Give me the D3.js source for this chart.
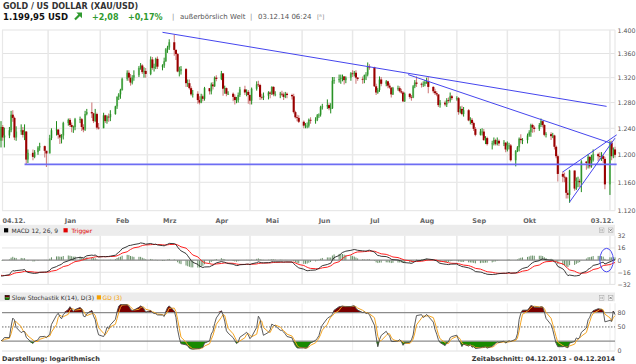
<!DOCTYPE html>
<html><head><meta charset="utf-8">
<script src="https://cdn.jsdelivr.net/npm/d3@7/dist/d3.min.js"></script>
<style>
html,body{margin:0;padding:0;background:#fff;overflow:hidden}
svg{display:block;font-family:"DejaVu Sans",Verdana,sans-serif}
</style></head><body>
<svg id="c" width="636" height="364"></svg>
<script>
// ---------------- DATA ----------------
const startDate = "2013-12-04", endDate = "2014-12-04";
const holidays = ["2013-12-25", "2014-01-01"];
const firstOpen = 1221;

const close = [].concat(
  [1242,1226,1229,1237,1261,1256,1226,1235,1237,1230,1235,1193,1203,1197,1204,1211,1213,1206,1202],
  [1225,1237,1238,1230,1226,1229,1248,1253,1245,1242,1242,1254,1254,1242,1238,1262,1265,1263,1251,1262,1241,1240],
  [1260,1251,1258,1257,1262,1274,1289,1293,1300,1318,1328,1320,1312,1320,1324,1336,1340,1329,1331,1326],
  [1350,1336,1338,1351,1338,1340,1347,1367,1370,1379,1366,1359,1330,1331,1334,1311,1311,1303,1293,1294,1284],
  [1280,1290,1286,1303,1298,1309,1306,1320,1318,1327,1302,1303,1294,1294,1289,1284,1284,1292,1301,1296,1297,1292],
  [1283,1302,1309,1308,1289,1288,1291,1296,1294,1305,1293,1293,1294,1293,1289,1294,1292,1290,1265,1257,1256,1250],
  [1244,1244,1244,1253,1252,1253,1260,1261,1273,1274,1276,1271,1271,1315,1316,1318,1320,1322,1316,1320,1327],
  [1326,1328,1320,1318,1317,1324,1325,1338,1337,1306,1296,1300,1317,1310,1314,1307,1304,1293,1303,1303,1298,1296,1282],
  [1294,1289,1288,1306,1312,1310,1309,1310,1313,1314,1305,1298,1295,1293,1276,1280,1277,1284,1283,1290,1287],
  [1287,1265,1270,1262,1268,1252,1253,1248,1239,1230,1235,1235,1222,1225,1216,1217,1222,1216,1221,1217,1218,1208],
  [1214,1214,1192,1206,1211,1224,1222,1222,1229,1234,1245,1241,1239,1245,1251,1245,1230,1231,1228,1229,1212,1198,1172],
  [1168,1167,1145,1142,1177,1151,1162,1162,1160,1190,1188,1197,1183,1192,1201,1198,1197,1198,1194,1157],
  [1218,1198,1208,1200]
);
const high = [].concat(
  [1251,1245,1241,1242,1267,1268,1258,1243,1246,1242,1246,1236,1208,1208,1207,1213,1218,1214,1206],
  [1230,1240,1251,1239,1232,1231,1250,1255,1256,1249,1244,1256,1258,1256,1246,1267,1270,1280,1264,1270,1264,1248],
  [1264,1261,1260,1263,1268,1275,1290,1295,1302,1320,1332,1332,1326,1324,1332,1339,1344,1342,1337,1336],
  [1355,1354,1343,1353,1355,1342,1353,1369,1373,1384,1392,1367,1361,1338,1339,1336,1317,1317,1306,1300,1298],
  [1290,1294,1293,1305,1303,1312,1313,1322,1324,1331,1327,1307,1304,1298,1296,1293,1289,1296,1305,1307,1301,1300],
  [1293,1304,1314,1315,1310,1294,1296,1298,1298,1306,1306,1298,1297,1299,1296,1297,1296,1294,1294,1267,1261,1260],
  [1252,1248,1249,1255,1257,1257,1262,1263,1275,1278,1285,1279,1279,1321,1321,1325,1325,1325,1322,1322,1329],
  [1332,1331,1332,1321,1322,1325,1329,1345,1342,1338,1310,1303,1322,1321,1316,1315,1311,1304,1305,1307,1306,1302,1298],
  [1296,1295,1292,1308,1316,1322,1312,1314,1316,1320,1321,1306,1302,1298,1293,1284,1283,1287,1288,1296,1292],
  [1290,1289,1274,1275,1273,1270,1257,1256,1250,1242,1239,1240,1239,1228,1227,1221,1226,1224,1226,1223,1222,1219],
  [1220,1218,1216,1207,1213,1226,1231,1225,1232,1237,1247,1247,1244,1248,1255,1251,1246,1234,1234,1233,1230,1214,1200],
  [1176,1174,1168,1149,1178,1177,1167,1168,1165,1192,1191,1201,1198,1200,1208,1203,1204,1204,1200,1197],
  [1221,1221,1211,1212]
);
const low = [].concat(
  [1211,1221,1211,1225,1234,1250,1222,1221,1230,1226,1222,1185,1188,1192,1195,1200,1206,1196,1182],
  [1202,1222,1229,1224,1216,1217,1223,1244,1242,1234,1233,1237,1248,1236,1234,1236,1260,1256,1248,1250,1238,1238],
  [1240,1248,1247,1250,1251,1261,1270,1284,1286,1299,1315,1315,1307,1309,1315,1321,1333,1326,1320,1320],
  [1324,1333,1330,1334,1334,1332,1336,1346,1361,1366,1356,1349,1329,1322,1325,1305,1305,1301,1291,1288,1278],
  [1277,1279,1282,1283,1293,1293,1301,1305,1314,1316,1291,1294,1290,1292,1282,1277,1279,1280,1289,1292,1290,1278],
  [1277,1277,1299,1305,1284,1285,1284,1285,1287,1292,1290,1290,1287,1290,1284,1287,1287,1285,1263,1255,1251,1248],
  [1240,1240,1240,1241,1247,1247,1251,1256,1258,1269,1270,1268,1263,1270,1310,1312,1310,1314,1309,1311,1315],
  [1321,1322,1310,1315,1310,1311,1316,1322,1333,1305,1292,1294,1297,1306,1306,1303,1302,1288,1292,1299,1296,1294,1281],
  [1281,1286,1283,1287,1303,1305,1304,1305,1306,1310,1295,1295,1292,1290,1273,1272,1274,1273,1279,1280,1284],
  [1283,1261,1263,1260,1258,1251,1246,1245,1236,1228,1229,1229,1221,1216,1214,1208,1214,1214,1214,1213,1213,1204],
  [1205,1208,1190,1183,1204,1205,1217,1216,1217,1227,1227,1233,1234,1236,1242,1241,1228,1226,1222,1225,1208,1195,1161],
  [1160,1160,1137,1137,1131,1148,1149,1153,1153,1146,1178,1180,1180,1181,1190,1191,1192,1191,1188,1150],
  [1142,1192,1195,1196]
);
// warm-up period before the visible range (Sep 2013 – 03.12.2013), needed for MACD / stochastic
const preClose = [].concat(
  [1412,1412,1390,1366,1387,1386,1363,1367,1331,1331,1314,1308,1367,1366,1333,1325,1322,1337,1324,1337,1327],
  [1286,1317,1316,1310,1324,1324,1307,1286,1273,1275,1273,1282,1322,1316,1315,1337,1333,1349,1352,1353,1345,1349,1323],
  [1315,1316,1308,1317,1308,1287,1282,1271,1283,1287,1288,1273,1275,1243,1243,1244,1241,1243,1238,1240,1250],
  [1222,1221]
);
const preHigh = [1318,1320,1323,1310,1289,1285,1287,1295,1292,1290,1279,1280,1248,1247,1248,1246,1256,1245,1254,1252,1243];
const preLow  = [1300,1305,1301,1281,1276,1266,1262,1280,1280,1271,1268,1240,1236,1233,1226,1235,1233,1235,1237,1212,1211];

const priceTicks = [1120,1160,1200,1240,1280,1320,1360,1400];
const macdTicks = [32,16,0,-16,-32];
const stochTicks = [80,50,0];
const xTickLabels = ["04.12.","Jan","Feb","Mrz","Apr","Mai","Jun","Jul","Aug","Sep","Okt","03.12."];
const xTickDates  = ["2013-12-04","2014-01-14","2014-02-14","2014-03-14","2014-04-14","2014-05-14","2014-06-14","2014-07-14","2014-08-14","2014-09-14","2014-10-14","2014-12-03"];

// drawn trend lines (date, price)
const trendLines = [
  [["2014-03-10",1396],["2014-11-29",1274]],
  [["2014-08-03",1325],["2014-12-02",1217]],
  [["2014-11-03",1175],["2014-12-05",1230]],
  [["2014-11-07",1132],["2014-12-04",1225]]
];
const supportLine = [["2013-12-18",1186],["2014-12-05",1186]];
const macdMarker = {date:"2014-11-29", value:0, days:4, range:15.5};

// ---------------- SETUP ----------------
const P = d3.timeParse("%Y-%m-%d");
const fmt = d3.timeFormat("%Y-%m-%d");
const hol = new Set(holidays);
const days = d3.timeDay.range(P(startDate), d3.timeDay.offset(P(endDate), 1))
  .filter(d => d.getDay() !== 0 && d.getDay() !== 6 && !hol.has(fmt(d)));
const candles = days.map((d, i) => ({date: d, open: i ? close[i-1] : firstOpen, high: high[i], low: low[i], close: close[i]}));

const svg = d3.select("#c");
const xL = 1, xR = 615;
const x = d3.scaleTime().domain([P(startDate), P(endDate)]).range([xL, xR]);
const y = d3.scaleLog().domain([1120, 1400]).range([210.7, 30]);
const yM = d3.scaleLinear().domain([-32, 32]).range([284.4, 235.8]);
const yS = d3.scaleLinear().domain([0, 100]).range([350.7, 303.2]);
const monthStarts = d3.timeMonth.range(P("2014-01-01"), P("2014-12-02"));

// defs / clips
const defs = svg.append("defs");
defs.append("clipPath").attr("id","cm").append("rect").attr("x",1).attr("y",235.8).attr("width",615).attr("height",48.6);
defs.append("clipPath").attr("id","cs").append("rect").attr("x",1).attr("y",301).attr("width",615).attr("height",50);

// ---------------- HEADER ----------------
const green = "#2f9a2f";
svg.append("text").attr("x",3).attr("y",9).attr("font-size",8).attr("font-weight","bold").attr("fill","#333").text("GOLD / US DOLLAR (XAU/USD)");
svg.append("text").attr("x",3).attr("y",19.5).attr("font-size",8.5).attr("font-weight","bold").attr("fill","#111").text("1.199,95 USD");
svg.append("path").attr("d","M75,19.5 L80.2,14.3").attr("stroke",green).attr("stroke-width",2.2);
svg.append("path").attr("d","M76.3,12.6 L82,12.6 L82,18.3 Z").attr("fill",green);
svg.append("text").attr("x",92).attr("y",19.5).attr("font-size",8).attr("font-weight","bold").attr("fill",green).text("+2,08");
svg.append("text").attr("x",128).attr("y",19.5).attr("font-size",8).attr("font-weight","bold").attr("fill",green).text("+0,17%");
svg.append("text").attr("x",172).attr("y",19).attr("font-size",7).attr("fill","#888").text("|");
svg.append("text").attr("x",180).attr("y",19).attr("font-size",7).attr("fill","#555").text("außerbörslich Welt");
svg.append("text").attr("x",250).attr("y",19).attr("font-size",7).attr("fill","#888").text("|");
svg.append("text").attr("x",258).attr("y",19).attr("font-size",7).attr("fill","#555").text("03.12.14 06:24");
svg.append("text").attr("x",317).attr("y",18.5).attr("font-size",6).attr("fill","#888").text("[ᴿ]");

// ---------------- MAIN GRID ----------------
const gGrid = svg.append("g");
gGrid.selectAll("line.h").data(priceTicks).join("line")
  .attr("x1",2).attr("x2",xR).attr("y1",d=>y(d)).attr("y2",d=>y(d))
  .attr("stroke","#e3e3e3").attr("stroke-width",1);
gGrid.selectAll("line.v").data(monthStarts).join("line")
  .attr("x1",d=>x(d)).attr("x2",d=>x(d)).attr("y1",y(1400)).attr("y2",y(1120))
  .attr("stroke","#e8e8e8").attr("stroke-width",1.5);
[2.5, xR].forEach(v => gGrid.append("line").attr("x1",v).attr("x2",v).attr("y1",y(1400)).attr("y2",y(1120)).attr("stroke","#e8e8e8").attr("stroke-width",1.2));

// candles
const gC = svg.append("g");
const bw = 2.1;
candles.forEach(c => {
  const up = c.close >= c.open, cx = x(c.date);
  if (up) {
    gC.append("rect").attr("x",cx-bw/2).attr("width",bw)
      .attr("y",y(c.close)).attr("height",Math.max(0.8,y(c.open)-y(c.close))).attr("fill","#92cf92");
    gC.append("line").attr("x1",cx).attr("x2",cx).attr("y1",y(c.high)).attr("y2",y(c.low))
      .attr("stroke","#1f8a1b").attr("stroke-width",1);
  } else {
    gC.append("line").attr("x1",cx).attr("x2",cx).attr("y1",y(c.high)).attr("y2",y(c.low))
      .attr("stroke","#d07f7f").attr("stroke-width",1.1);
    gC.append("rect").attr("x",cx-bw/2).attr("width",bw)
      .attr("y",y(c.open)).attr("height",Math.max(0.8,y(c.close)-y(c.open))).attr("fill","#990000");
  }
});

// trend lines
const tl = d3.line().x(d=>x(P(d[0]))).y(d=>y(d[1]));
svg.append("path").attr("d",tl(supportLine)).attr("fill","none").attr("stroke","#6d6df3").attr("stroke-width",1.6);
trendLines.forEach(l => svg.append("path").attr("d",tl(l)).attr("fill","none").attr("stroke","#4646ee").attr("stroke-width",1));

// right price axis
const ax = svg.append("g").attr("transform",`translate(${xR+0.5},0)`)
  .call(d3.axisRight(y).tickValues(priceTicks).tickSize(0).tickPadding(2).tickFormat(d=>d3.format(",")(d).replace(",",".")));
ax.select(".domain").remove();
ax.selectAll("text").attr("font-size",6.3).attr("fill","#555").attr("font-family","DejaVu Sans");

// bottom date axis
const bx = svg.append("g").attr("transform","translate(0,211)")
  .call(d3.axisBottom(x).tickValues(xTickDates.map(P)).tickSize(0).tickPadding(7).tickFormat((d,i)=>xTickLabels[i]));
bx.select(".domain").remove();
bx.selectAll("text").attr("font-size",6.5).attr("font-weight","bold").attr("fill","#666").attr("font-family","DejaVu Sans");
bx.selectAll("text").filter((d,i)=>i===0).attr("text-anchor","start").attr("dx",1);
bx.selectAll("text").filter((d,i)=>i===xTickLabels.length-1).attr("text-anchor","end").attr("dx",0);

// ---------------- INDICATORS ----------------
function ema(arr, n) { const k = 2/(n+1), o = []; arr.forEach((v,i)=>o.push(i ? v*k + o[i-1]*(1-k) : v)); return o; }
const allC = preClose.concat(close);
const e12 = ema(allC,12), e26 = ema(allC,26);
const macdAll = allC.map((v,i)=>e12[i]-e26[i]);
const sigAll = ema(macdAll,9);
const off = preClose.length;
const macdData = candles.map((c,i)=>({date:c.date, m:macdAll[off+i], s:sigAll[off+i]}));

const sC = preClose.slice(-preHigh.length).concat(close);
const sH = preHigh.concat(high), sL = preLow.concat(low);
const rawK = sC.map((c,i)=>{ if(i<13) return null; const hh=d3.max(sH.slice(i-13,i+1)), ll=d3.min(sL.slice(i-13,i+1)); return hh===ll?50:100*(c-ll)/(hh-ll); });
const slowK = rawK.map((v,i)=> i<15 ? null : (rawK[i]+rawK[i-1]+rawK[i-2])/3);
const dL = slowK.map((v,i)=> i<17 ? null : (slowK[i]+slowK[i-1]+slowK[i-2])/3);
const so = preHigh.length;
const stData = candles.map((c,i)=>({date:c.date, k:slowK[so+i], d:dL[so+i]}));

// ---------------- MACD PANEL ----------------
svg.append("rect").attr("x",0).attr("y",224.8).attr("width",615).attr("height",11).attr("fill","#ececec");
svg.append("rect").attr("x",4).attr("y",228.2).attr("width",4.2).attr("height",4.2).attr("fill","#000");
svg.append("text").attr("x",11.5).attr("y",233.3).attr("font-size",6).attr("fill","#333").text("MACD 12, 26, 9");
svg.append("rect").attr("x",63.5).attr("y",228.2).attr("width",4.2).attr("height",4.2).attr("fill","#e00000");
svg.append("text").attr("x",71.5).attr("y",233.3).attr("font-size",6).attr("fill","#e00000").text("Trigger");
function icons(yy){
  [599.3,608.3].forEach((ix,j)=>{
    svg.append("rect").attr("x",ix).attr("y",yy).attr("width",4.6).attr("height",4.6).attr("fill","#fff").attr("stroke","#aaa").attr("stroke-width",0.6);
    if(j===0){ svg.append("path").attr("d",`M${ix+1.6},${yy+1} v2.6 M${ix+3},${yy+1} v2.6`).attr("stroke","#777").attr("stroke-width",0.6); }
    else { svg.append("path").attr("d",`M${ix+1.1},${yy+1.1} l2.4,2.4 M${ix+3.5},${yy+1.1} l-2.4,2.4`).attr("stroke","#555").attr("stroke-width",0.7); }
  });
}
icons(228);

const gM = svg.append("g");
gM.selectAll("line.v").data(monthStarts).join("line")
  .attr("x1",d=>x(d)).attr("x2",d=>x(d)).attr("y1",yM(32)).attr("y2",yM(-32)).attr("stroke","#e8e8e8").attr("stroke-width",1.5);
gM.append("line").attr("x1",xR).attr("x2",xR).attr("y1",yM(32)).attr("y2",yM(-32)).attr("stroke","#e8e8e8").attr("stroke-width",1.2);
[16,-16,-32].forEach(v=>gM.append("line").attr("x1",2).attr("x2",xR).attr("y1",yM(v)).attr("y2",yM(v)).attr("stroke","#e2e2e2"));
const gMc = svg.append("g").attr("clip-path","url(#cm)");
gMc.selectAll("rect.hist").data(macdData).join("rect")
  .attr("x",d=>x(d.date)-0.5).attr("width",1)
  .attr("y",d=>Math.min(yM(0),yM(d.m-d.s))).attr("height",d=>Math.abs(yM(d.m-d.s)-yM(0)))
  .attr("fill","#668f66");
gMc.append("line").attr("x1",2).attr("x2",xR).attr("y1",yM(0)).attr("y2",yM(0)).attr("stroke","#8a8a8a").attr("stroke-width",1.2);
gMc.append("path").datum(macdData).attr("d",d3.line().x(d=>x(d.date)).y(d=>yM(d.s))).attr("fill","none").attr("stroke","#ff2020").attr("stroke-width",1);
gMc.append("path").datum(macdData).attr("d",d3.line().x(d=>x(d.date)).y(d=>yM(d.m))).attr("fill","none").attr("stroke","#222").attr("stroke-width",0.9);
{
  const cd = P(macdMarker.date);
  const cx = x(cd), rx = x(d3.timeDay.offset(cd, macdMarker.days)) - cx;
  const cy = yM(macdMarker.value), ry = cy - yM(macdMarker.value + macdMarker.range);
  svg.append("ellipse").attr("cx",cx).attr("cy",cy).attr("rx",rx).attr("ry",ry).attr("fill","none").attr("stroke","#4a4af2").attr("stroke-width",1);
}
const axM = svg.append("g").attr("transform",`translate(${xR+0.5},0)`)
  .call(d3.axisRight(yM).tickValues(macdTicks).tickSize(0).tickPadding(2));
axM.select(".domain").remove();
axM.selectAll("text").attr("font-size",6.3).attr("fill","#555").attr("font-family","DejaVu Sans");

// ---------------- STOCHASTIC PANEL ----------------
svg.append("rect").attr("x",0).attr("y",292.5).attr("width",615).attr("height",8.8).attr("fill","#ececec");
svg.append("rect").attr("x",5).attr("y",295.3).attr("width",4.3).attr("height",2.2).attr("fill","#6a0000");
svg.append("rect").attr("x",5).attr("y",297.5).attr("width",4.3).attr("height",2.2).attr("fill","#1a8a00");
svg.append("rect").attr("x",5).attr("y",295.3).attr("width",4.3).attr("height",4.4).attr("fill","none").attr("stroke","#000").attr("stroke-width",0.5);
svg.append("text").attr("x",11.7).attr("y",299.8).attr("font-size",6).attr("fill","#333").text("Slow Stochastik K(14), D(3)");
svg.append("rect").attr("x",96.8).attr("y",295.3).attr("width",4.2).attr("height",4.2).attr("fill","#f5a000");
svg.append("text").attr("x",102.5).attr("y",299.8).attr("font-size",6).attr("fill","#f5a000").text("GD (3)");
icons(295.6);

const gS = svg.append("g");
gS.selectAll("line.v").data(monthStarts).join("line")
  .attr("x1",d=>x(d)).attr("x2",d=>x(d)).attr("y1",yS(100)).attr("y2",yS(0)).attr("stroke","#f1f1f1").attr("stroke-width",1.2);
gS.append("line").attr("x1",2).attr("x2",xR).attr("y1",yS(0)+0.3).attr("y2",yS(0)+0.3).attr("stroke","#e0e0e0");
gS.append("line").attr("x1",xR).attr("x2",xR).attr("y1",yS(100)).attr("y2",yS(0)).attr("stroke","#e8e8e8");
const gSc = svg.append("g").attr("clip-path","url(#cs)");
gSc.append("path").datum(stData).attr("d",d3.area().x(d=>x(d.date)).y0(yS(80)).y1(d=>yS(Math.max(d.k,80)))).attr("fill","#7a0000");
gSc.append("path").datum(stData).attr("d",d3.area().x(d=>x(d.date)).y0(yS(20)).y1(d=>yS(Math.min(d.k,20)))).attr("fill","#178a00");
[80,20].forEach(v=>gSc.append("line").attr("x1",2).attr("x2",xR).attr("y1",yS(v)).attr("y2",yS(v)).attr("stroke","#8c8c8c").attr("stroke-width",1.2));
gSc.append("line").attr("x1",2).attr("x2",xR).attr("y1",yS(50)).attr("y2",yS(50)).attr("stroke","#444").attr("stroke-width",0.8).attr("stroke-dasharray","1.5,1.5");
gSc.append("path").datum(stData).attr("d",d3.line().x(d=>x(d.date)).y(d=>yS(d.d))).attr("fill","none").attr("stroke","#f5a623").attr("stroke-width",1);
gSc.append("path").datum(stData).attr("d",d3.line().x(d=>x(d.date)).y(d=>yS(d.k))).attr("fill","none").attr("stroke","#4a4a4a").attr("stroke-width",0.9);
const axS = svg.append("g").attr("transform",`translate(${xR+0.5},0)`)
  .call(d3.axisRight(yS).tickValues(stochTicks).tickSize(0).tickPadding(2));
axS.select(".domain").remove();
axS.selectAll("text").attr("font-size",6.3).attr("fill","#555").attr("font-family","DejaVu Sans");

// ---------------- FOOTER ----------------
svg.append("text").attr("x",2).attr("y",361).attr("font-size",6.5).attr("font-weight","bold").attr("fill","#333").text("Darstellung: logarithmisch");
svg.append("text").attr("x",615).attr("y",361).attr("text-anchor","end").attr("font-size",6.5).attr("font-weight","bold").attr("fill","#333").text("Zeitabschnitt: 04.12.2013 - 04.12.2014");
</script>
</body></html>
